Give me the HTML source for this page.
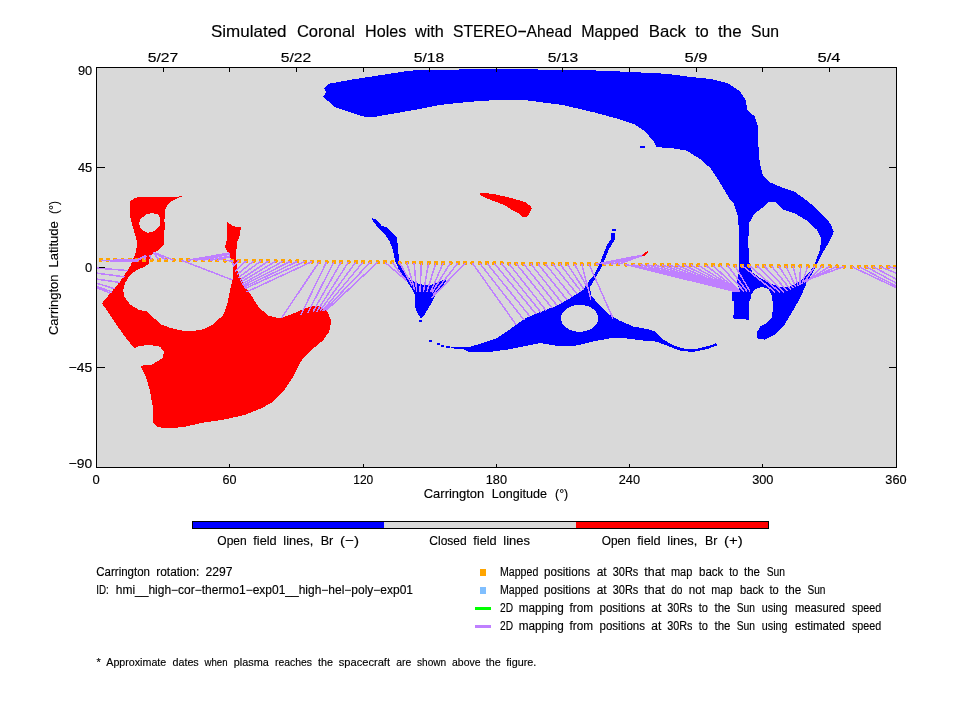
<!DOCTYPE html>
<html><head><meta charset="utf-8"><title>Simulated Coronal Holes</title>
<style>html,body{margin:0;padding:0;background:#fff}body{width:960px;height:720px;overflow:hidden}</style></head>
<body>
<svg width="960" height="720" viewBox="0 0 960 720" style="display:block;will-change:transform">
<rect width="960" height="720" fill="#fff"/>
<defs><clipPath id="pc"><rect x="96" y="67" width="801" height="401"/></clipPath></defs>
<rect x="96" y="67" width="801" height="401" fill="#d9d9d9"/>
<g clip-path="url(#pc)" shape-rendering="crispEdges">
<polygon points="130.0,201.7 134.0,198.5 140.0,196.7 156.7,197.2 173.0,197.3 180.0,196.3 183.3,196.0 180.0,197.0 177.8,198.0 172.2,200.8 167.8,204.1 165.0,209.6 164.4,221.7 165.0,223.9 164.4,231.7 163.9,245.0 158.9,250.0 154.4,252.4 150.0,255.8 149.5,259.5 149.2,263.3 145.0,266.7 136.7,270.0 130.0,275.0 125.0,283.3 123.3,290.0 124.2,296.7 130.0,304.2 138.3,309.7 147.5,311.7 153.3,317.5 161.7,324.7 171.7,328.3 181.7,330.5 191.7,331.3 203.3,329.2 213.3,324.2 223.3,315.0 227.5,303.3 230.0,290.0 232.5,280.0 233.3,270.0 233.3,263.3 228.3,253.3 225.0,246.7 226.7,240.0 227.5,230.0 227.0,221.7 233.3,226.3 240.8,227.5 240.0,235.0 236.7,243.3 236.3,255.0 236.8,266.7 237.2,270.0 239.0,275.0 241.3,280.0 244.0,285.0 247.5,290.0 250.0,293.3 258.3,306.7 268.3,315.8 280.0,318.3 291.7,314.2 303.3,309.2 313.3,305.5 321.7,306.7 328.3,313.3 331.3,321.7 329.2,331.7 323.3,340.0 313.3,348.5 306.7,355.0 300.8,361.3 292.5,377.9 284.2,390.4 271.7,402.9 259.2,409.2 244.6,415.0 223.8,419.6 202.9,422.7 184.2,426.9 167.5,428.5 157.0,426.9 152.9,422.7 152.5,405.0 149.8,390.4 145.6,375.8 140.4,365.8 151.7,364.7 156.7,361.7 163.3,357.5 163.7,351.7 160.0,346.7 150.0,345.0 140.0,345.8 134.2,348.3 125.0,336.7 116.7,325.0 110.0,315.0 102.0,303.3 120.0,281.7 130.0,266.7 135.0,255.0 137.5,243.3 133.3,228.3 130.0,216.7" fill="#f00"/>
<polygon points="146.7,214.1 152.2,213 157.8,214.4 160,217.8 160,225.6 156.7,229.4 152.2,231.7 147.8,232.8 143.9,231.1 140.6,227.8 139.1,223.3 140,219.4" fill="#d9d9d9"/>
<polygon points="479.8,193.0 485.0,193.0 494.2,194.2 501.7,195.8 508.3,197.3 516.7,199.6 525.0,202.0 530.0,205.8 532.0,208.3 530.0,212.5 527.0,216.7 522.0,216.8 519.2,213.8 510.8,209.2 504.2,205.0 496.7,202.0 487.5,198.8 480.8,195.4" fill="#f00"/>
<polygon points="322.9,96.7 326.3,92.5 324.2,88.3 328.8,83.8 351.7,79.6 378.8,75.4 410.0,70.6 443.3,69.6 510.0,69.2 583.3,70.0 625.0,71.7 666.7,73.8 690.0,76.9 710.8,79.0 727.5,83.1 740.0,91.5 746.3,100.8 746.7,109.2 754.6,116.5 757.7,125.8 758.3,144.6 759.8,163.3 762.9,175.8 769.2,182.1 781.7,187.3 794.2,191.5 808.3,201.5 820.8,212.9 830.2,223.3 833.8,231.7 830.2,240.0 822.9,252.5 814.6,269.2 806.3,283.8 800.0,298.3 791.7,312.9 783.3,326.5 775.0,334.8 764.6,339.6 757.3,338.3 756.7,332.7 760.4,326.5 766.7,323.3 771.9,317.1 773.3,306.7 771.9,296.3 768.8,289.0 762.5,286.9 755.2,289.0 751.4,294.0 750.5,299.0 749.0,302.0 749.0,319.6 734.4,319.2 732.3,316.0 734.0,315.0 734.0,301.5 732.3,300.4 732.3,292.1 739.6,290.0 736.5,281.7 738.1,277.5 739.2,267.1 739.2,231.7 737.5,215.0 733.3,202.5 729.6,198.8 723.3,188.3 717.1,177.9 710.8,168.5 700.4,159.2 690.0,152.9 687.5,150.8 672.9,148.3 656.3,147.1 655.2,143.5 645.8,132.1 635.4,124.8 616.7,118.5 593.8,112.3 562.5,105.0 527.0,100.4 500.0,99.8 468.3,101.9 439.2,105.0 418.3,109.2 397.5,112.9 376.7,116.5 365.2,116.9 351.7,112.9 335.0,107.0" fill="#00f"/>
<polygon points="768.8,202.1 776.0,202.5 783.3,209.8 793.8,212.9 806.3,220.2 816.7,229.6 820.8,237.9 820.4,248.3 816.7,258.8 813.5,267.1 808.3,273.3 802.5,279.0 797.5,282.8 790.0,286.5 779.0,286.5 770.0,283.3 760.5,278.3 752.1,272.3 749.0,260.8 748.3,242.1 749.0,223.3 754.2,214.0 762.5,207.7" fill="#d9d9d9"/>
<polygon points="371.5,218.3 375.6,218.8 381.9,226.0 386.0,227.0 397.0,237.5 398.5,254.2 399.2,262.5 403.8,271.9 411.0,280.2 420.4,284.4 430.8,285.0 439.2,281.7 445.4,278.8 446.5,280.8 441.3,287.5 435.0,295.8 430.8,304.2 424.6,314.6 420.8,318.8 417.3,312.5 414.6,306.3 414.6,293.8 411.0,287.5 404.8,278.1 398.5,268.8 395.0,260.4 392.3,247.9 389.2,240.6 384.0,233.3 377.7,227.1 373.5,221.9" fill="#00f"/>
<polygon points="450.8,347.2 470.0,346.7 481.7,343.3 496.7,338.3 506.7,331.7 516.7,324.2 526.7,317.5 543.3,310.8 556.7,305.8 571.3,297.5 583.8,289.2 589.0,280.8 594.2,274.6 600.4,262.1 606.7,245.4 610.8,239.2 610.8,232.9 615.0,232.5 615.0,239.2 608.8,249.6 603.0,264.2 595.0,278.8 590.0,287.1 591.0,295.4 598.3,303.8 608.8,314.2 619.2,320.4 633.8,326.7 648.3,329.2 655.6,331.9 662.9,339.2 673.3,345.4 685.8,349.2 698.3,348.5 710.8,345.4 716.0,343.3 717.0,345.4 706.7,349.2 694.2,351.7 681.7,351.3 669.2,346.5 656.7,341.7 640.0,340.2 623.3,338.1 610.8,338.1 594.2,341.3 577.5,345.4 560.8,346.5 551.7,345.0 540.0,343.0 526.7,345.8 510.0,349.2 491.7,351.7 468.3,351.7 463.3,349.2 450.8,348.3" fill="#00f"/>
<ellipse cx="579.6" cy="318.3" rx="18.5" ry="13.5" fill="#d9d9d9"/>
<rect x="640" y="146" width="5" height="2" fill="#00f"/>
<rect x="419" y="320" width="3" height="2" fill="#00f"/>
<rect x="429" y="340" width="3" height="2" fill="#00f"/>
<rect x="437" y="343" width="3" height="2" fill="#00f"/>
<rect x="440.5" y="345" width="3" height="2" fill="#00f"/>
<rect x="445.5" y="346" width="4" height="2" fill="#00f"/>
<rect x="612" y="229" width="4" height="2" fill="#00f"/>
</g>
<g stroke="#000" stroke-width="1" shape-rendering="crispEdges" fill="none">
<path d="M163.5,67.5v4M229.5,67.5v4M296.5,67.5v4M363.5,67.5v4M429.5,67.5v4M496.5,67.5v4M562.5,67.5v4M629.5,67.5v4M696.5,67.5v4M762.5,67.5v4M829.5,67.5v4M229.5,467.5v-4M363.5,467.5v-4M496.5,467.5v-4M629.5,467.5v-4M762.5,467.5v-4M96.5,167.5h8M896.5,167.5h-8M96.5,267.5h8M896.5,267.5h-8M96.5,367.5h8M896.5,367.5h-8"/>
</g>
<g clip-path="url(#pc)" shape-rendering="crispEdges">
<rect x="98.6" y="257.7" width="4" height="4" rx="1" fill="#ffa500"/>
<rect x="105.9" y="257.7" width="4" height="4" rx="1" fill="#ffa500"/>
<rect x="113.2" y="257.8" width="4" height="4" rx="1" fill="#ffa500"/>
<rect x="120.5" y="257.8" width="4" height="4" rx="1" fill="#ffa500"/>
<rect x="127.8" y="257.8" width="4" height="4" rx="1" fill="#ffa500"/>
<rect x="135.1" y="257.9" width="4" height="4" rx="1" fill="#ffa500"/>
<rect x="142.3" y="257.9" width="4" height="4" rx="1" fill="#ffa500"/>
<rect x="149.6" y="257.9" width="4" height="4" rx="1" fill="#ffa500"/>
<rect x="156.9" y="258.0" width="4" height="4" rx="1" fill="#ffa500"/>
<rect x="164.2" y="258.0" width="4" height="4" rx="1" fill="#ffa500"/>
<rect x="171.5" y="258.1" width="4" height="4" rx="1" fill="#ffa500"/>
<rect x="178.8" y="258.1" width="4" height="4" rx="1" fill="#ffa500"/>
<rect x="186.1" y="258.2" width="4" height="4" rx="1" fill="#ffa500"/>
<rect x="193.4" y="258.2" width="4" height="4" rx="1" fill="#ffa500"/>
<rect x="200.7" y="258.3" width="4" height="4" rx="1" fill="#ffa500"/>
<rect x="207.9" y="258.3" width="4" height="4" rx="1" fill="#ffa500"/>
<rect x="215.2" y="258.4" width="4" height="4" rx="1" fill="#ffa500"/>
<rect x="222.5" y="258.5" width="4" height="4" rx="1" fill="#ffa500"/>
<rect x="229.8" y="258.6" width="4" height="4" rx="1" fill="#ffa500"/>
<rect x="237.1" y="258.7" width="4" height="4" rx="1" fill="#ffa500"/>
<rect x="244.4" y="258.8" width="4" height="4" rx="1" fill="#ffa500"/>
<rect x="251.7" y="258.9" width="4" height="4" rx="1" fill="#ffa500"/>
<rect x="259.0" y="259.0" width="4" height="4" rx="1" fill="#ffa500"/>
<rect x="266.3" y="259.1" width="4" height="4" rx="1" fill="#ffa500"/>
<rect x="273.6" y="259.2" width="4" height="4" rx="1" fill="#ffa500"/>
<rect x="280.9" y="259.3" width="4" height="4" rx="1" fill="#ffa500"/>
<rect x="288.1" y="259.4" width="4" height="4" rx="1" fill="#ffa500"/>
<rect x="295.4" y="259.4" width="4" height="4" rx="1" fill="#ffa500"/>
<rect x="302.7" y="259.5" width="4" height="4" rx="1" fill="#ffa500"/>
<rect x="310.0" y="259.6" width="4" height="4" rx="1" fill="#ffa500"/>
<rect x="317.3" y="259.7" width="4" height="4" rx="1" fill="#ffa500"/>
<rect x="324.6" y="259.8" width="4" height="4" rx="1" fill="#ffa500"/>
<rect x="331.9" y="259.8" width="4" height="4" rx="1" fill="#ffa500"/>
<rect x="339.2" y="259.9" width="4" height="4" rx="1" fill="#ffa500"/>
<rect x="346.5" y="260.0" width="4" height="4" rx="1" fill="#ffa500"/>
<rect x="353.8" y="260.1" width="4" height="4" rx="1" fill="#ffa500"/>
<rect x="361.0" y="260.1" width="4" height="4" rx="1" fill="#ffa500"/>
<rect x="368.3" y="260.2" width="4" height="4" rx="1" fill="#ffa500"/>
<rect x="375.6" y="260.3" width="4" height="4" rx="1" fill="#ffa500"/>
<rect x="382.9" y="260.3" width="4" height="4" rx="1" fill="#ffa500"/>
<rect x="390.2" y="260.4" width="4" height="4" rx="1" fill="#ffa500"/>
<rect x="397.5" y="260.5" width="4" height="4" rx="1" fill="#ffa500"/>
<rect x="404.8" y="260.5" width="4" height="4" rx="1" fill="#ffa500"/>
<rect x="412.1" y="260.6" width="4" height="4" rx="1" fill="#ffa500"/>
<rect x="419.4" y="260.7" width="4" height="4" rx="1" fill="#ffa500"/>
<rect x="426.6" y="260.7" width="4" height="4" rx="1" fill="#ffa500"/>
<rect x="433.9" y="260.8" width="4" height="4" rx="1" fill="#ffa500"/>
<rect x="441.2" y="260.9" width="4" height="4" rx="1" fill="#ffa500"/>
<rect x="448.5" y="260.9" width="4" height="4" rx="1" fill="#ffa500"/>
<rect x="455.8" y="261.0" width="4" height="4" rx="1" fill="#ffa500"/>
<rect x="463.1" y="261.1" width="4" height="4" rx="1" fill="#ffa500"/>
<rect x="470.4" y="261.1" width="4" height="4" rx="1" fill="#ffa500"/>
<rect x="477.7" y="261.2" width="4" height="4" rx="1" fill="#ffa500"/>
<rect x="485.0" y="261.3" width="4" height="4" rx="1" fill="#ffa500"/>
<rect x="492.3" y="261.3" width="4" height="4" rx="1" fill="#ffa500"/>
<rect x="499.5" y="261.4" width="4" height="4" rx="1" fill="#ffa500"/>
<rect x="506.8" y="261.5" width="4" height="4" rx="1" fill="#ffa500"/>
<rect x="514.1" y="261.5" width="4" height="4" rx="1" fill="#ffa500"/>
<rect x="521.4" y="261.6" width="4" height="4" rx="1" fill="#ffa500"/>
<rect x="528.7" y="261.7" width="4" height="4" rx="1" fill="#ffa500"/>
<rect x="536.0" y="261.7" width="4" height="4" rx="1" fill="#ffa500"/>
<rect x="543.3" y="261.8" width="4" height="4" rx="1" fill="#ffa500"/>
<rect x="550.6" y="261.9" width="4" height="4" rx="1" fill="#ffa500"/>
<rect x="557.9" y="261.9" width="4" height="4" rx="1" fill="#ffa500"/>
<rect x="565.2" y="262.0" width="4" height="4" rx="1" fill="#ffa500"/>
<rect x="572.5" y="262.1" width="4" height="4" rx="1" fill="#ffa500"/>
<rect x="579.7" y="262.1" width="4" height="4" rx="1" fill="#ffa500"/>
<rect x="587.0" y="262.2" width="4" height="4" rx="1" fill="#ffa500"/>
<rect x="594.3" y="262.2" width="4" height="4" rx="1" fill="#ffa500"/>
<rect x="601.6" y="262.3" width="4" height="4" rx="1" fill="#ffa500"/>
<rect x="608.9" y="262.4" width="4" height="4" rx="1" fill="#ffa500"/>
<rect x="616.2" y="262.4" width="4" height="4" rx="1" fill="#ffa500"/>
<rect x="623.5" y="262.5" width="4" height="4" rx="1" fill="#ffa500"/>
<rect x="630.8" y="262.6" width="4" height="4" rx="1" fill="#ffa500"/>
<rect x="638.1" y="262.6" width="4" height="4" rx="1" fill="#ffa500"/>
<rect x="645.4" y="262.7" width="4" height="4" rx="1" fill="#ffa500"/>
<rect x="652.6" y="262.8" width="4" height="4" rx="1" fill="#ffa500"/>
<rect x="659.9" y="262.8" width="4" height="4" rx="1" fill="#ffa500"/>
<rect x="667.2" y="262.9" width="4" height="4" rx="1" fill="#ffa500"/>
<rect x="674.5" y="263.0" width="4" height="4" rx="1" fill="#ffa500"/>
<rect x="681.8" y="263.0" width="4" height="4" rx="1" fill="#ffa500"/>
<rect x="689.1" y="263.1" width="4" height="4" rx="1" fill="#ffa500"/>
<rect x="696.4" y="263.2" width="4" height="4" rx="1" fill="#ffa500"/>
<rect x="703.7" y="263.2" width="4" height="4" rx="1" fill="#ffa500"/>
<rect x="711.0" y="263.3" width="4" height="4" rx="1" fill="#ffa500"/>
<rect x="718.2" y="263.4" width="4" height="4" rx="1" fill="#ffa500"/>
<rect x="725.5" y="263.4" width="4" height="4" rx="1" fill="#ffa500"/>
<rect x="732.8" y="263.5" width="4" height="4" rx="1" fill="#ffa500"/>
<rect x="740.1" y="263.6" width="4" height="4" rx="1" fill="#ffa500"/>
<rect x="747.4" y="263.6" width="4" height="4" rx="1" fill="#ffa500"/>
<rect x="754.7" y="263.7" width="4" height="4" rx="1" fill="#ffa500"/>
<rect x="762.0" y="263.8" width="4" height="4" rx="1" fill="#ffa500"/>
<rect x="769.3" y="263.8" width="4" height="4" rx="1" fill="#ffa500"/>
<rect x="776.6" y="263.9" width="4" height="4" rx="1" fill="#ffa500"/>
<rect x="783.9" y="264.0" width="4" height="4" rx="1" fill="#ffa500"/>
<rect x="791.1" y="264.0" width="4" height="4" rx="1" fill="#ffa500"/>
<rect x="798.4" y="264.1" width="4" height="4" rx="1" fill="#ffa500"/>
<rect x="805.7" y="264.2" width="4" height="4" rx="1" fill="#ffa500"/>
<rect x="813.0" y="264.2" width="4" height="4" rx="1" fill="#ffa500"/>
<rect x="820.3" y="264.3" width="4" height="4" rx="1" fill="#ffa500"/>
<rect x="827.6" y="264.4" width="4" height="4" rx="1" fill="#ffa500"/>
<rect x="834.9" y="264.4" width="4" height="4" rx="1" fill="#ffa500"/>
<rect x="842.2" y="264.5" width="4" height="4" rx="1" fill="#ffa500"/>
<rect x="849.5" y="264.6" width="4" height="4" rx="1" fill="#ffa500"/>
<rect x="856.8" y="264.6" width="4" height="4" rx="1" fill="#ffa500"/>
<rect x="864.1" y="264.7" width="4" height="4" rx="1" fill="#ffa500"/>
<rect x="871.3" y="264.8" width="4" height="4" rx="1" fill="#ffa500"/>
<rect x="878.6" y="264.8" width="4" height="4" rx="1" fill="#ffa500"/>
<rect x="885.9" y="264.9" width="4" height="4" rx="1" fill="#ffa500"/>
<rect x="893.2" y="265.0" width="4" height="4" rx="1" fill="#ffa500"/>
<path d="M100.6,260.3L137.5,260.6M137.5,260.6L146.0,255.4M107.9,260.3L137.5,260.4M137.5,260.4L146.0,255.4M115.2,260.4L137.5,260.1M137.5,260.1L146.0,255.4M122.5,260.4L137.5,259.9M137.5,259.9L146.0,255.4M129.8,260.4L137.5,259.6M137.5,259.6L146.0,255.4M137.1,259.9L146.0,255.4M144.3,259.9L146.2,255.4M151.6,259.9L149.5,255.0M158.9,260.0L153.5,252.5M166.2,260.0L154.8,252.9M173.5,260.1L156.0,253.3M180.8,260.1L232.5,280.0M188.1,260.2L229.2,253.0M195.4,260.2L229.5,253.5M202.7,260.3L229.8,254.0M209.9,260.3L230.0,256.0M217.2,260.4L230.3,256.5M224.5,260.5L232.5,261.0M231.8,260.6L233.8,265.8M239.1,260.7L233.0,266.5M246.4,260.8L235.0,271.0M253.7,260.9L237.0,274.5M261.0,261.0L238.5,277.5M268.3,261.1L240.0,280.0M275.6,261.2L241.0,282.0M282.9,261.3L242.0,284.0M290.1,261.4L243.0,285.5M297.4,261.4L244.0,287.0M304.7,261.5L245.0,288.5M312.0,261.6L246.5,292.0M319.3,261.7L281.3,318.3M326.6,261.8L300.8,315.0M333.9,261.8L307.8,313.0M341.2,261.9L313.0,311.7M348.5,262.0L316.7,311.7M355.8,262.1L320.0,310.8M363.0,262.1L322.5,310.8M370.3,262.2L324.2,310.8M377.6,262.3L325.8,310.8M384.9,262.3L405.0,279.4M392.2,262.4L406.5,281.0M399.5,262.5L412.2,285.5M406.8,262.5L414.6,289.6M414.1,262.6L416.7,291.7M421.4,262.7L420.0,291.7M428.6,262.7L423.5,291.7M435.9,262.8L427.0,291.7M443.2,262.9L430.8,291.7M450.5,262.9L431.9,292.7M457.8,263.0L432.9,294.8M465.1,263.1L431.9,297.9M472.4,263.1L516.3,325.0M479.7,263.2L524.0,320.0M487.0,263.3L530.0,316.5M494.3,263.3L536.0,314.0M501.5,263.4L541.0,312.5M508.8,263.5L546.0,310.5M516.1,263.5L552.0,308.0M523.4,263.6L557.0,305.5M530.7,263.7L562.0,303.0M538.0,263.7L567.0,300.0M545.3,263.8L572.0,297.0M552.6,263.9L577.0,294.0M559.9,263.9L581.0,291.5M567.2,264.0L584.0,289.5M574.5,264.1L587.0,287.0M581.7,264.1L591.0,299.6M589.0,264.2L613.0,318.3M596.3,264.2L644.0,254.8M603.6,264.3L644.0,254.8M610.9,264.4L644.0,254.8M618.2,264.4L644.0,254.8M625.5,264.5L734.5,291.3M632.8,264.6L735.0,291.3M640.1,264.6L735.4,291.3M647.4,264.7L735.9,291.3M654.6,264.8L736.3,291.3M661.9,264.8L736.8,291.3M669.2,264.9L737.2,291.3M676.5,265.0L737.7,291.3M683.8,265.0L738.2,291.3M691.1,265.1L738.6,291.3M698.4,265.2L739.1,291.3M705.7,265.2L739.5,291.3M713.0,265.3L740.0,291.3M720.2,265.4L744.0,291.3M727.5,265.4L747.0,291.3M734.8,265.5L750.0,291.3M742.1,265.6L775.0,292.0M749.4,265.6L780.2,292.5M756.7,265.7L784.4,292.5M764.0,265.8L787.5,291.0M771.3,265.8L790.6,289.6M778.6,265.9L793.3,288.3M785.9,266.0L795.8,286.9M793.1,266.0L797.9,285.8M800.4,266.1L800.0,284.8M807.7,266.2L802.0,283.8M815.0,266.2L803.8,282.7M822.3,266.3L806.0,282.5M829.6,266.4L805.3,282.0M836.9,266.4L804.6,281.5M844.2,266.5L803.9,281.0M851.5,266.6L896.0,287.5M96.0,287.5L110.0,293.0M858.8,266.6L896.0,286.0M96.0,286.0L112.0,292.0M866.1,266.7L896.0,283.0M96.0,283.0L115.0,288.8M873.3,266.8L896.0,279.0M96.0,279.0L120.0,282.5M880.6,266.8L896.0,273.0M96.0,273.0L124.6,276.9M887.9,266.9L896.0,268.0M96.0,268.0L128.4,270.6" stroke="#bf80ff" stroke-width="1.5" fill="none"/>
<polygon points="102,260 112,259.6 125,259 137.5,258.6 140,259.6 137,262 125,262 112,261.6 102,261" fill="#bf80ff"/>
<polygon points="643.0,254.0 646.0,252.0 648.0,250.0 648.5,251.5 646.5,254.5 644.0,256.0 642.5,255.5" fill="#f00"/>
</g>
<rect x="96.5" y="67.5" width="800" height="400" stroke="#000" stroke-width="1" shape-rendering="crispEdges" fill="none"/>
<g shape-rendering="crispEdges"><rect x="192" y="521" width="577" height="8" fill="#000"/>
<rect x="193" y="522" width="191" height="6" fill="#00f"/><rect x="384" y="522" width="192" height="6" fill="#d9d9d9"/><rect x="576" y="522" width="192" height="6" fill="#f00"/></g>
<g shape-rendering="crispEdges"><rect x="480" y="569" width="6" height="7" fill="#ffa500"/><rect x="480" y="587" width="6" height="7" fill="#80bfff"/>
<rect x="475" y="607" width="16" height="3" fill="#0f0"/><rect x="475" y="625" width="16" height="3" fill="#bf80ff"/></g>
<g font-family="'Liberation Sans', sans-serif" fill="#000" stroke="#000" stroke-width="0.15">
<text x="210.90" y="36.5" font-size="16.5" textLength="75.70" lengthAdjust="spacingAndGlyphs">Simulated</text>
<text x="296.90" y="36.5" font-size="16.5" textLength="58.10" lengthAdjust="spacingAndGlyphs">Coronal</text>
<text x="365.00" y="36.5" font-size="16.5" textLength="41.30" lengthAdjust="spacingAndGlyphs">Holes</text>
<text x="415.00" y="36.5" font-size="16.5" textLength="28.75" lengthAdjust="spacingAndGlyphs">with</text>
<text x="453.10" y="36.5" font-size="16.5" textLength="118.80" lengthAdjust="spacingAndGlyphs">STEREO&#8722;Ahead</text>
<text x="581.25" y="36.5" font-size="16.5" textLength="57.75" lengthAdjust="spacingAndGlyphs">Mapped</text>
<text x="648.75" y="36.5" font-size="16.5" textLength="37.25" lengthAdjust="spacingAndGlyphs">Back</text>
<text x="695.30" y="36.5" font-size="16.5" textLength="13.45" lengthAdjust="spacingAndGlyphs">to</text>
<text x="718.10" y="36.5" font-size="16.5" textLength="23.50" lengthAdjust="spacingAndGlyphs">the</text>
<text x="751.00" y="36.5" font-size="16.5" textLength="28.00" lengthAdjust="spacingAndGlyphs">Sun</text>
<text x="147.75" y="62" font-size="13.2" textLength="30.50" lengthAdjust="spacingAndGlyphs">5/27</text>
<text x="280.75" y="62" font-size="13.2" textLength="30.50" lengthAdjust="spacingAndGlyphs">5/22</text>
<text x="413.75" y="62" font-size="13.2" textLength="30.50" lengthAdjust="spacingAndGlyphs">5/18</text>
<text x="547.75" y="62" font-size="13.2" textLength="30.50" lengthAdjust="spacingAndGlyphs">5/13</text>
<text x="684.50" y="62" font-size="13.2" textLength="23.00" lengthAdjust="spacingAndGlyphs">5/9</text>
<text x="817.50" y="62" font-size="13.2" textLength="23.00" lengthAdjust="spacingAndGlyphs">5/4</text>
<text x="77.90" y="75" font-size="13" textLength="14.30" lengthAdjust="spacingAndGlyphs">90</text>
<text x="77.90" y="172" font-size="13" textLength="14.30" lengthAdjust="spacingAndGlyphs">45</text>
<text x="88.70" y="272" font-size="13" text-anchor="middle">0</text>
<text x="68.70" y="372" font-size="13" textLength="23.50" lengthAdjust="spacingAndGlyphs">&#8722;45</text>
<text x="68.70" y="467.8" font-size="13" textLength="23.50" lengthAdjust="spacingAndGlyphs">&#8722;90</text>
<text x="96.00" y="484" font-size="13" text-anchor="middle">0</text>
<text x="222.50" y="484" font-size="13" textLength="14.00" lengthAdjust="spacingAndGlyphs">60</text>
<text x="353.30" y="484" font-size="13" textLength="20.00" lengthAdjust="spacingAndGlyphs">120</text>
<text x="485.75" y="484" font-size="13" textLength="21.30" lengthAdjust="spacingAndGlyphs">180</text>
<text x="618.75" y="484" font-size="13" textLength="21.30" lengthAdjust="spacingAndGlyphs">240</text>
<text x="752.15" y="484" font-size="13" textLength="21.30" lengthAdjust="spacingAndGlyphs">300</text>
<text x="885.35" y="484" font-size="13" textLength="21.30" lengthAdjust="spacingAndGlyphs">360</text>
<text x="423.75" y="498" font-size="13" textLength="60.50" lengthAdjust="spacingAndGlyphs">Carrington</text>
<text x="491.75" y="498" font-size="13" textLength="55.25" lengthAdjust="spacingAndGlyphs">Longitude</text>
<text x="555.00" y="498" font-size="13" textLength="13.25" lengthAdjust="spacingAndGlyphs">(&#176;)</text>
<g transform="translate(58.2,335) rotate(-90)">
<text x="0.00" y="0" font-size="13" textLength="60.50" lengthAdjust="spacingAndGlyphs">Carrington</text>
<text x="67.50" y="0" font-size="13" textLength="46.30" lengthAdjust="spacingAndGlyphs">Latitude</text>
<text x="121.00" y="0" font-size="13" textLength="13.00" lengthAdjust="spacingAndGlyphs">(&#176;)</text>
</g>
<text x="217.30" y="545.3" font-size="13" textLength="29.40" lengthAdjust="spacingAndGlyphs">Open</text>
<text x="253.30" y="545.3" font-size="13" textLength="23.40" lengthAdjust="spacingAndGlyphs">field</text>
<text x="283.30" y="545.3" font-size="13" textLength="30.00" lengthAdjust="spacingAndGlyphs">lines,</text>
<text x="320.70" y="545.3" font-size="13" textLength="12.60" lengthAdjust="spacingAndGlyphs">Br</text>
<text x="340.00" y="545.3" font-size="13" textLength="19.00" lengthAdjust="spacingAndGlyphs">(&#8722;)</text>
<text x="429.30" y="545.3" font-size="13" textLength="37.40" lengthAdjust="spacingAndGlyphs">Closed</text>
<text x="473.30" y="545.3" font-size="13" textLength="23.40" lengthAdjust="spacingAndGlyphs">field</text>
<text x="503.30" y="545.3" font-size="13" textLength="26.70" lengthAdjust="spacingAndGlyphs">lines</text>
<text x="601.70" y="545.3" font-size="13" textLength="29.00" lengthAdjust="spacingAndGlyphs">Open</text>
<text x="637.30" y="545.3" font-size="13" textLength="23.40" lengthAdjust="spacingAndGlyphs">field</text>
<text x="667.30" y="545.3" font-size="13" textLength="30.00" lengthAdjust="spacingAndGlyphs">lines,</text>
<text x="705.00" y="545.3" font-size="13" textLength="12.30" lengthAdjust="spacingAndGlyphs">Br</text>
<text x="724.00" y="545.3" font-size="13" textLength="18.70" lengthAdjust="spacingAndGlyphs">(+)</text>
<text x="96.25" y="576.2" font-size="12" textLength="53.75" lengthAdjust="spacingAndGlyphs">Carrington</text>
<text x="156.25" y="576.2" font-size="12" textLength="43.00" lengthAdjust="spacingAndGlyphs">rotation:</text>
<text x="205.50" y="576.2" font-size="12" textLength="27.00" lengthAdjust="spacingAndGlyphs">2297</text>
<text x="96.25" y="594.2" font-size="12" textLength="12.50" lengthAdjust="spacingAndGlyphs">ID:</text>
<text x="115.75" y="594.2" font-size="12" textLength="297.25" lengthAdjust="spacingAndGlyphs">hmi__high&#8722;cor&#8722;thermo1&#8722;exp01__high&#8722;hel&#8722;poly&#8722;exp01</text>
<text x="500.00" y="576.2" font-size="12" textLength="38.30" lengthAdjust="spacingAndGlyphs">Mapped</text>
<text x="544.00" y="576.2" font-size="12" textLength="46.00" lengthAdjust="spacingAndGlyphs">positions</text>
<text x="596.70" y="576.2" font-size="12" textLength="10.00" lengthAdjust="spacingAndGlyphs">at</text>
<text x="612.70" y="576.2" font-size="12" textLength="25.60" lengthAdjust="spacingAndGlyphs">30Rs</text>
<text x="644.30" y="576.2" font-size="12" textLength="20.70" lengthAdjust="spacingAndGlyphs">that</text>
<text x="671.00" y="576.2" font-size="12" textLength="21.30" lengthAdjust="spacingAndGlyphs">map</text>
<text x="699.00" y="576.2" font-size="12" textLength="24.30" lengthAdjust="spacingAndGlyphs">back</text>
<text x="729.30" y="576.2" font-size="12" textLength="9.00" lengthAdjust="spacingAndGlyphs">to</text>
<text x="744.00" y="576.2" font-size="12" textLength="16.00" lengthAdjust="spacingAndGlyphs">the</text>
<text x="766.70" y="576.2" font-size="12" textLength="18.30" lengthAdjust="spacingAndGlyphs">Sun</text>
<text x="500.00" y="594.2" font-size="12" textLength="38.30" lengthAdjust="spacingAndGlyphs">Mapped</text>
<text x="544.00" y="594.2" font-size="12" textLength="46.00" lengthAdjust="spacingAndGlyphs">positions</text>
<text x="596.70" y="594.2" font-size="12" textLength="10.00" lengthAdjust="spacingAndGlyphs">at</text>
<text x="612.70" y="594.2" font-size="12" textLength="25.60" lengthAdjust="spacingAndGlyphs">30Rs</text>
<text x="644.30" y="594.2" font-size="12" textLength="20.70" lengthAdjust="spacingAndGlyphs">that</text>
<text x="671.25" y="594.2" font-size="12" textLength="11.25" lengthAdjust="spacingAndGlyphs">do</text>
<text x="688.75" y="594.2" font-size="12" textLength="16.25" lengthAdjust="spacingAndGlyphs">not</text>
<text x="711.25" y="594.2" font-size="12" textLength="21.25" lengthAdjust="spacingAndGlyphs">map</text>
<text x="740.00" y="594.2" font-size="12" textLength="23.75" lengthAdjust="spacingAndGlyphs">back</text>
<text x="769.50" y="594.2" font-size="12" textLength="9.25" lengthAdjust="spacingAndGlyphs">to</text>
<text x="785.00" y="594.2" font-size="12" textLength="16.25" lengthAdjust="spacingAndGlyphs">the</text>
<text x="807.50" y="594.2" font-size="12" textLength="18.00" lengthAdjust="spacingAndGlyphs">Sun</text>
<text x="500.00" y="612.2" font-size="12" textLength="13.00" lengthAdjust="spacingAndGlyphs">2D</text>
<text x="518.75" y="612.2" font-size="12" textLength="45.00" lengthAdjust="spacingAndGlyphs">mapping</text>
<text x="569.50" y="612.2" font-size="12" textLength="23.50" lengthAdjust="spacingAndGlyphs">from</text>
<text x="599.50" y="612.2" font-size="12" textLength="45.50" lengthAdjust="spacingAndGlyphs">positions</text>
<text x="651.25" y="612.2" font-size="12" textLength="10.00" lengthAdjust="spacingAndGlyphs">at</text>
<text x="667.25" y="612.2" font-size="12" textLength="25.25" lengthAdjust="spacingAndGlyphs">30Rs</text>
<text x="698.75" y="612.2" font-size="12" textLength="9.25" lengthAdjust="spacingAndGlyphs">to</text>
<text x="714.50" y="612.2" font-size="12" textLength="16.00" lengthAdjust="spacingAndGlyphs">the</text>
<text x="736.75" y="612.2" font-size="12" textLength="18.25" lengthAdjust="spacingAndGlyphs">Sun</text>
<text x="761.75" y="612.2" font-size="12" textLength="25.75" lengthAdjust="spacingAndGlyphs">using</text>
<text x="795.00" y="612.2" font-size="12" textLength="50.00" lengthAdjust="spacingAndGlyphs">measured</text>
<text x="852.00" y="612.2" font-size="12" textLength="29.25" lengthAdjust="spacingAndGlyphs">speed</text>
<text x="500.00" y="630.2" font-size="12" textLength="13.00" lengthAdjust="spacingAndGlyphs">2D</text>
<text x="518.75" y="630.2" font-size="12" textLength="45.00" lengthAdjust="spacingAndGlyphs">mapping</text>
<text x="569.50" y="630.2" font-size="12" textLength="23.50" lengthAdjust="spacingAndGlyphs">from</text>
<text x="599.50" y="630.2" font-size="12" textLength="45.50" lengthAdjust="spacingAndGlyphs">positions</text>
<text x="651.25" y="630.2" font-size="12" textLength="10.00" lengthAdjust="spacingAndGlyphs">at</text>
<text x="667.25" y="630.2" font-size="12" textLength="25.25" lengthAdjust="spacingAndGlyphs">30Rs</text>
<text x="698.75" y="630.2" font-size="12" textLength="9.25" lengthAdjust="spacingAndGlyphs">to</text>
<text x="714.50" y="630.2" font-size="12" textLength="16.00" lengthAdjust="spacingAndGlyphs">the</text>
<text x="736.75" y="630.2" font-size="12" textLength="18.25" lengthAdjust="spacingAndGlyphs">Sun</text>
<text x="761.75" y="630.2" font-size="12" textLength="25.75" lengthAdjust="spacingAndGlyphs">using</text>
<text x="795.00" y="630.2" font-size="12" textLength="50.00" lengthAdjust="spacingAndGlyphs">estimated</text>
<text x="852.00" y="630.2" font-size="12" textLength="29.25" lengthAdjust="spacingAndGlyphs">speed</text>
<text x="98.75" y="666" font-size="11" text-anchor="middle">*</text>
<text x="106.25" y="666" font-size="11" textLength="60.00" lengthAdjust="spacingAndGlyphs">Approximate</text>
<text x="172.50" y="666" font-size="11" textLength="26.25" lengthAdjust="spacingAndGlyphs">dates</text>
<text x="204.50" y="666" font-size="11" textLength="23.00" lengthAdjust="spacingAndGlyphs">when</text>
<text x="233.75" y="666" font-size="11" textLength="35.00" lengthAdjust="spacingAndGlyphs">plasma</text>
<text x="275.00" y="666" font-size="11" textLength="37.00" lengthAdjust="spacingAndGlyphs">reaches</text>
<text x="318.00" y="666" font-size="11" textLength="15.00" lengthAdjust="spacingAndGlyphs">the</text>
<text x="338.75" y="666" font-size="11" textLength="51.25" lengthAdjust="spacingAndGlyphs">spacecraft</text>
<text x="396.25" y="666" font-size="11" textLength="15.00" lengthAdjust="spacingAndGlyphs">are</text>
<text x="417.00" y="666" font-size="11" textLength="29.25" lengthAdjust="spacingAndGlyphs">shown</text>
<text x="452.00" y="666" font-size="11" textLength="28.50" lengthAdjust="spacingAndGlyphs">above</text>
<text x="485.75" y="666" font-size="11" textLength="15.00" lengthAdjust="spacingAndGlyphs">the</text>
<text x="506.25" y="666" font-size="11" textLength="30.00" lengthAdjust="spacingAndGlyphs">figure.</text>
</g>
</svg>
</body></html>
